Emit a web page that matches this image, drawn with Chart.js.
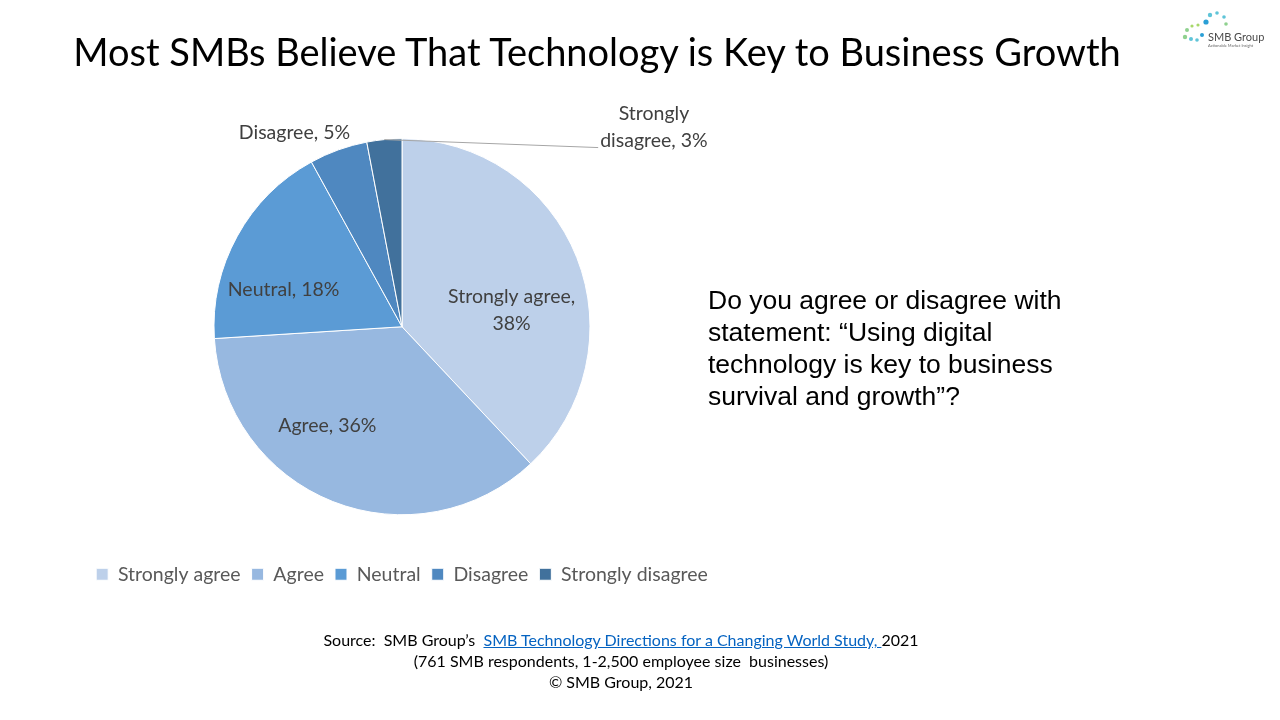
<!DOCTYPE html>
<html>
<head>
<meta charset="utf-8">
<script src="https://cdn.jsdelivr.net/npm/chart.js@4"></script>
<style>
  html, body { margin: 0; padding: 0; background: #fff; }
  #wrap { position: relative; width: 1280px; height: 720px; overflow: hidden; }
  #chart { position: absolute; left: 0; top: 0; }
  .title {
    position: absolute; left: 0; width: 1194px; top: 28px; text-align: center;
    font-family: Lato, "Open Sans", sans-serif; font-size: 38px; color: #000;
    white-space: nowrap;
  }
  .question {
    position: absolute; left: 708px; top: 284px; width: 440px;
    font-family: "Liberation Sans", Arial, sans-serif; font-size: 26.5px; line-height: 32px; color: #000;
  }
  .source {
    position: absolute; left: 0; width: 1242px; top: 629px; text-align: center;
    font-family: Lato, "Open Sans", sans-serif; font-size: 16px; line-height: 21px; color: #000;
  }
  .source a { color: #0563C1; text-decoration: underline; }
  .logo { position: absolute; left: 1178px; top: 8px; }
</style>
</head>
<body>
<div id="wrap">
  <canvas id="chart" width="1280" height="720"></canvas>
  <div class="title">Most SMBs Believe That Technology is Key to Business Growth</div>
  <div class="question">Do you agree or disagree with<br>statement: “Using digital<br>technology is key to business<br>survival and growth”?</div>
  <div class="source">
    Source:&nbsp; SMB Group’s&nbsp; <a>SMB Technology Directions for a Changing World Study, </a>2021<br>
    (761 SMB respondents, 1-2,500 employee size&nbsp; businesses)<br>
    © SMB Group, 2021
  </div>
  <svg class="logo" width="96" height="42" viewBox="0 0 96 42">
    <g fill="#5fc4d8">
      <circle cx="32" cy="7" r="2.2"/><circle cx="39" cy="5" r="1.8"/><circle cx="46" cy="9" r="1.8"/>
      <circle cx="28" cy="14" r="2.6" fill="#2a9fd6"/><circle cx="48" cy="16" r="1.8" fill="#8fd18f"/>
      <circle cx="20" cy="17" r="1.6" fill="#a8d86a"/><circle cx="14" cy="18" r="1.6" fill="#a8d86a"/>
      <circle cx="9" cy="22" r="2" fill="#8fd18f"/><circle cx="7" cy="29" r="2.2" fill="#8fd18f"/>
      <circle cx="13" cy="31" r="2" fill="#5fc4d8"/><circle cx="19" cy="32" r="1.8" fill="#5fc4d8"/>
      <circle cx="24" cy="27" r="2" fill="#2a9fd6"/>
    </g>
    <text x="30" y="33" font-family="Lato, sans-serif" font-size="11" fill="#4a4a4a">SMB Group</text>
    <text x="30" y="39" font-family="Lato, sans-serif" font-size="4" fill="#666">Actionable Market Insight</text>
  </svg>
</div>
<script>
const categories = ["Strongly agree", "Agree", "Neutral", "Disagree", "Strongly disagree"];
const shares = [38, 36, 18, 5, 3];
const sliceColors = ["#BDD0EA", "#97B8E0", "#5B9BD5", "#4F88C0", "#41719C"];

// label placement around each slice: radius factor, angle shift (deg), line split
const labelPlace = [
  { f: 0.59, shift: 12.8, split: true },
  { f: 0.66, shift: 15.4, split: false },
  { f: 0.66, shift: -11.4, split: false },
  { f: 1.18, shift: -9.2, split: false },
  { f: 1.71, shift: 57, split: true, leader: true }
];

const pieLabels = {
  id: "pieLabels",
  afterDatasetsDraw(chart) {
    const { ctx } = chart;
    const meta = chart.getDatasetMeta(0);
    ctx.save();
    ctx.font = "19.5px Lato, 'Open Sans', sans-serif";
    ctx.fillStyle = "#404040";
    ctx.textAlign = "center";
    ctx.textBaseline = "middle";
    meta.data.forEach((arc, i) => {
      const p = arc.getProps(["x", "y", "startAngle", "endAngle", "outerRadius"], true);
      const place = labelPlace[i];
      const mid = (p.startAngle + p.endAngle) / 2;
      const ang = mid + place.shift * Math.PI / 180;
      const lx = p.x + Math.cos(ang) * p.outerRadius * place.f;
      const ly = p.y + Math.sin(ang) * p.outerRadius * place.f;
      const val = shares[i] + "%";
      let lines;
      if (place.split) {
        const words = categories[i].split(" ");
        lines = i === 0 ? [categories[i] + ",", val] : [words[0], words.slice(1).join(" ") + ", " + val];
      } else {
        lines = [categories[i] + ", " + val];
      }
      const lh = 27;
      lines.forEach((t, k) => {
        ctx.fillText(t, lx, ly + (k - (lines.length - 1) / 2) * lh);
      });
      if (place.leader) {
        const w = ctx.measureText(lines[1]).width;
        const sx = p.x + Math.cos(mid) * p.outerRadius;
        const sy = p.y + Math.sin(mid) * p.outerRadius;
        ctx.strokeStyle = "#A6A6A6";
        ctx.lineWidth = 1;
        ctx.beginPath();
        ctx.moveTo(sx, sy);
        ctx.lineTo(lx - w / 2 - 2, ly + lh / 2 + 7);
        ctx.stroke();
      }
    });
    ctx.restore();
  }
};

new Chart(document.getElementById("chart"), {
  type: "pie",
  data: {
    labels: categories,
    datasets: [{
      data: shares,
      backgroundColor: sliceColors,
      borderColor: "#ffffff",
      borderWidth: 1,
      radius: 188
    }]
  },
  options: {
    responsive: false,
    animation: false,
    layout: { padding: { left: 50, right: 526, top: 100, bottom: 126 } },
    plugins: {
      legend: {
        position: "bottom",
        labels: {
          boxWidth: 12,
          boxHeight: 12,
          padding: 11,
          color: "#595959",
          font: { family: "Lato, 'Open Sans', sans-serif", size: 19.5 }
        }
      },
      tooltip: { enabled: false }
    }
  },
  plugins: [pieLabels]
});
</script>
</body>
</html>
